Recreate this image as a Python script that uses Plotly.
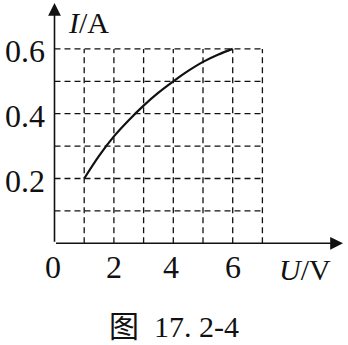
import plotly.graph_objects as go

# Data
U = [1, 1.5, 2, 2.5, 3, 3.5, 4, 4.5, 5, 5.5, 6]
I = [0.2, 0.27, 0.33, 0.38, 0.425, 0.465, 0.5, 0.532, 0.56, 0.582, 0.6]

x_grid = [1, 2, 3, 4, 5, 6, 7]
y_grid = [0.1, 0.2, 0.3, 0.4, 0.5, 0.6]
x_ticks = [0, 2, 4, 6]
x_tick_labels = ["0", "2", "4", "6"]
y_ticks = [0.2, 0.4, 0.6]
y_tick_labels = ["0.2", "0.4", "0.6"]

W, H = 348, 345
x0_px, x_scale = 54.5, 29.7      # px for U=0, px per volt
y0_px, y_scale = 243.3, 324.0    # px for I=0, px per ampere

x_range = [-x0_px / x_scale, (W - x0_px) / x_scale]
y_range = [(y0_px - H) / y_scale, y0_px / y_scale]

SERIF = "Liberation Serif, Times New Roman, serif"
INK = "#111111"

fig = go.Figure()
fig.add_trace(go.Scatter(x=U, y=I, mode="lines",
                         line=dict(color=INK, width=2.2, shape="spline", smoothing=1.0),
                         hoverinfo="skip", showlegend=False))

shapes = []
dash = "6px,4px"
for gx in x_grid:
    shapes.append(dict(type="line", x0=gx, x1=gx, y0=0, y1=max(y_grid),
                       line=dict(color=INK, width=1.3, dash=dash)))
for gy in y_grid:
    shapes.append(dict(type="line", x0=0, x1=max(x_grid), y0=gy, y1=gy,
                       line=dict(color=INK, width=1.3, dash=dash)))

x_tip = (343 - x0_px) / x_scale
y_tip = (y0_px - 3) / y_scale

annotations = []
# axes with arrows
annotations.append(dict(x=x_tip, y=0, ax=0, ay=0, axref="x", ayref="y", xref="x", yref="y",
                        showarrow=True, arrowhead=2, arrowsize=1.6, arrowwidth=1.6,
                        arrowcolor=INK, text=""))
annotations.append(dict(x=0, y=y_tip, ax=0, ay=0, axref="x", ayref="y", xref="x", yref="y",
                        showarrow=True, arrowhead=2, arrowsize=1.6, arrowwidth=1.6,
                        arrowcolor=INK, text=""))

for v, t in zip(y_ticks, y_tick_labels):
    annotations.append(dict(x=0, y=v, xref="x", yref="y", text=t, showarrow=False,
                            xanchor="right", yanchor="middle", xshift=-8, yshift=-2,
                            font=dict(family=SERIF, size=32, color=INK)))
for v, t in zip(x_ticks, x_tick_labels):
    annotations.append(dict(x=v, y=0, xref="x", yref="y", text=t, showarrow=False,
                            xanchor="center", yanchor="middle", yshift=-24,
                            xshift=-2 if v in (0, 4) else 0,
                            font=dict(family=SERIF, size=32, color=INK)))

annotations.append(dict(x=88, y=22, xref="paper", yref="paper", text="<i>I</i>/A",
                        showarrow=False, xanchor="center", yanchor="middle",
                        font=dict(family=SERIF, size=30, color=INK)))
annotations.append(dict(x=305, y=269, xref="paper", yref="paper", text="<i>U</i>/V",
                        showarrow=False, xanchor="center", yanchor="middle",
                        font=dict(family=SERIF, size=30, color=INK)))
annotations.append(dict(x=174, y=326, xref="paper", yref="paper", text="图  17. 2-4",
                        showarrow=False, xanchor="center", yanchor="middle", borderpad=0,
                        font=dict(family="Liberation Serif, Noto Sans CJK SC", size=30, color=INK)))

# convert paper-pixel annotations to paper fractions
for a in annotations:
    if a.get("xref") == "paper":
        a["x"] = a["x"] / W
        a["y"] = 1 - a["y"] / H

fig.update_layout(
    width=W, height=H, margin=dict(l=0, r=0, t=0, b=0),
    paper_bgcolor="white", plot_bgcolor="white",
    xaxis=dict(range=x_range, visible=False, fixedrange=True),
    yaxis=dict(range=y_range, visible=False, fixedrange=True),
    shapes=shapes, annotations=annotations, showlegend=False,
)

fig.write_html("out.html")
